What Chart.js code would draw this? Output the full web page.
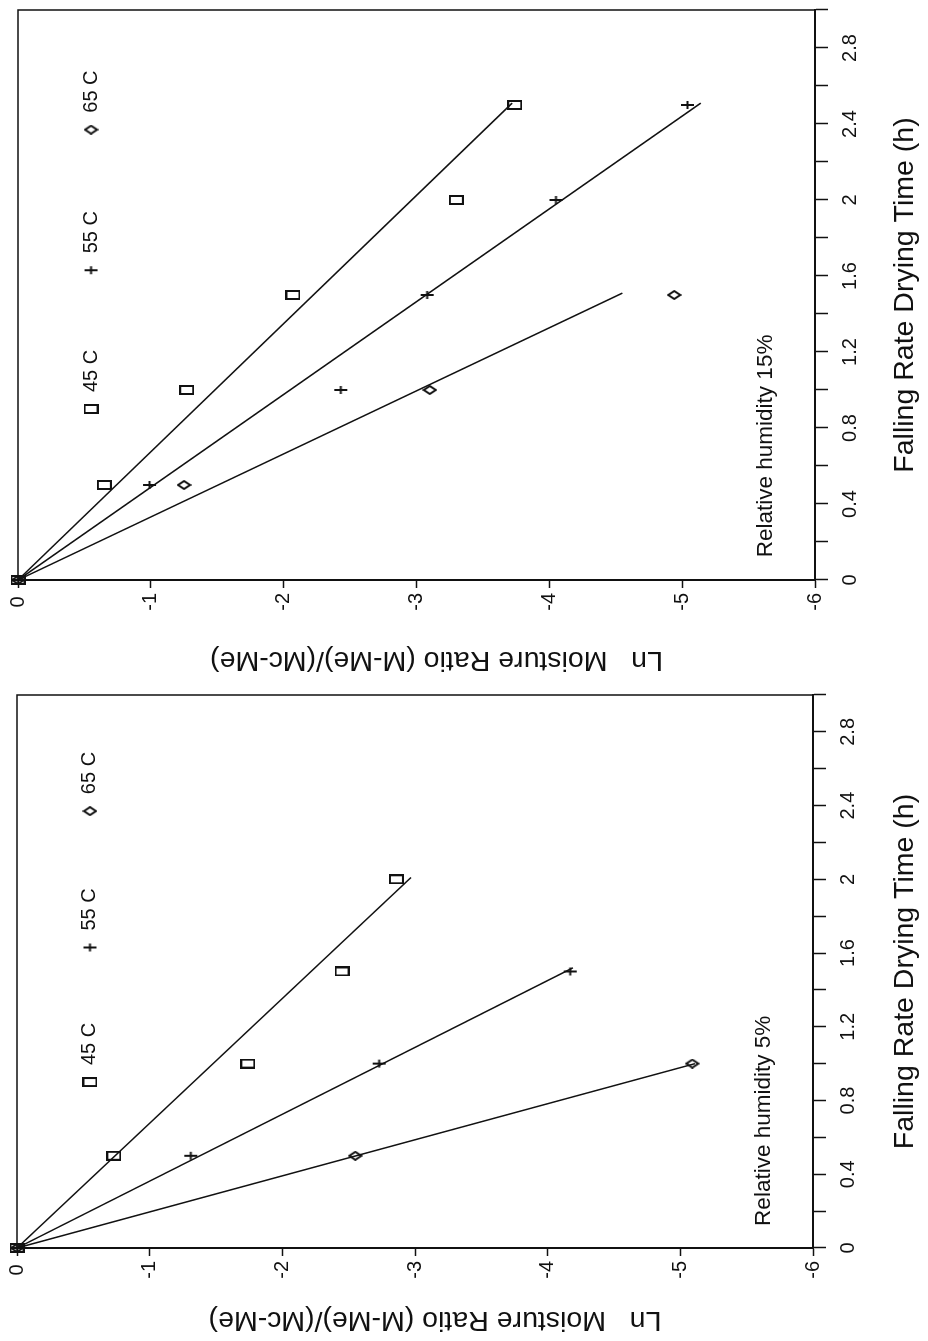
<!DOCTYPE html>
<html>
<head>
<meta charset="utf-8">
<script src="https://cdn.jsdelivr.net/npm/chart.js@4.4.0/dist/chart.umd.min.js"></script>
<style>
  html, body { margin: 0; padding: 0; background: #fff; }
  body { width: 928px; height: 1341px; position: relative; overflow: hidden; }
  canvas { display: block; }
  /* both panels are laid out as landscape plots and turned a quarter turn */
  .panel { position: absolute; transform: rotate(-90deg); transform-origin: 50% 50%; }
  #panelTop { left: 121px; top: -121px; width: 686px; height: 928px; }
  #panelBottom { left: 136px; top: 549px; width: 656px; height: 928px; }
</style>
</head>
<body>
<div class="panel" id="panelTop"><canvas id="chartTop" width="686" height="928"></canvas></div>
<div class="panel" id="panelBottom"><canvas id="chartBottom" width="656" height="928"></canvas></div>
<script>
// Relative humidity 15%
const timesRH15 = [0, 0.5, 1, 1.5, 2, 2.5];
const ln45RH15 = [0, -0.65, -1.27, -2.07, -3.30, -3.74];
const ln55RH15 = [0, -0.99, -2.43, -3.08, -4.05, -5.04];
const ln65RH15 = [0, -1.25, -3.10, -4.94];

// Relative humidity 5%
const timesRH5 = [0, 0.5, 1, 1.5, 2];
const ln45RH5 = [0, -0.73, -1.74, -2.45, -2.86];
const ln55RH5 = [0, -1.31, -2.73, -4.17];
const ln65RH5 = [0, -2.55, -5.09];

// far end of each fitted line through the origin: [time, ln ratio]
const fitRH15 = [[2.51, -3.72], [2.51, -5.14], [1.51, -4.55]];
const fitRH5 = [[2.01, -2.97], [1.52, -4.19], [1.0, -5.11]];

const seriesLabels = ['45 C', '55 C', '65 C'];
const timeTickLabels = ['0', '0.4', '0.8', '1.2', '1.6', '2', '2.4', '2.8'];
const lnTickLabels = ['0', '-1', '-2', '-3', '-4', '-5', '-6'];
const legendTimes = [0.9, 1.63, 2.37];
const legendLn = -0.55;

const INK = '#111';
const FONT = '"Liberation Sans", Arial, Helvetica, sans-serif';
Chart.defaults.font.family = FONT;
Chart.defaults.color = INK;

// open rectangle, plus and open diamond markers
function makeMarker(kind) {
  const c = document.createElement('canvas');
  c.width = 10;
  c.height = 15;
  const g = c.getContext('2d');
  g.strokeStyle = INK;
  g.lineWidth = 2;
  g.beginPath();
  if (kind === 'rect') {
    g.rect(1, 1, 8, 13);
  } else if (kind === 'diamond') {
    g.moveTo(5, 1.5); g.lineTo(9, 7.5); g.lineTo(5, 13.5); g.lineTo(1, 7.5); g.closePath();
  } else {
    g.moveTo(5, 1); g.lineTo(5, 14);
    g.moveTo(1, 7.5); g.lineTo(9, 7.5);
  }
  g.stroke();
  return c;
}
const markers = [makeMarker('rect'), makeMarker('plus'), makeMarker('diamond')];

function timeLabel(v) {
  const hit = timeTickLabels.find(l => Math.abs(Number(l) - v) < 1e-6);
  return hit === undefined ? '' : hit;
}

// box, y title, legend and humidity note
const panelDecor = {
  id: 'panelDecor',
  afterDraw(chart, args, opts) {
    const { ctx, chartArea: a } = chart;
    const x = chart.scales.x, y = chart.scales.y;
    ctx.save();
    ctx.strokeStyle = INK;
    ctx.lineWidth = 1.5;
    ctx.beginPath();
    ctx.moveTo(a.left, a.top);
    ctx.lineTo(a.right, a.top);
    ctx.lineTo(a.right, a.bottom);
    ctx.stroke();

    ctx.fillStyle = INK;
    ctx.textBaseline = 'middle';

    // axis title for the ln scale, a little off centre
    ctx.save();
    ctx.font = '28.5px ' + FONT;
    ctx.textAlign = 'center';
    ctx.translate(opts.titleX, (a.top + a.bottom) / 2 + opts.titleShift);
    ctx.rotate(-Math.PI / 2);
    ctx.fillText('Ln   Moisture Ratio (M-Me)/(Mc-Me)', 0, 0);
    ctx.restore();

    ctx.font = '20px ' + FONT;
    ctx.textAlign = 'left';
    const ly = y.getPixelForValue(legendLn);
    legendTimes.forEach((t, i) => {
      const lx = x.getPixelForValue(t);
      const m = markers[i];
      ctx.drawImage(m, lx - m.width / 2, ly - m.height / 2);
      ctx.fillText(seriesLabels[i], lx + 17, ly);
    });

    ctx.font = '22.5px ' + FONT;
    ctx.fillText(opts.note, x.getPixelForValue(opts.noteAt[0]), y.getPixelForValue(opts.noteAt[1]));
    ctx.restore();
  }
};

function buildChart(id, times, lnSets, fits, cfg) {
  const datasets = [];
  lnSets.forEach((ln, i) => {
    datasets.push({
      label: seriesLabels[i],
      data: ln.map((v, k) => ({ x: times[k], y: v })),
      showLine: false,
      pointStyle: markers[i],
      pointRadius: 6,
      clip: false
    });
    datasets.push({
      label: seriesLabels[i] + ' fit',
      data: [{ x: 0, y: 0 }, { x: fits[i][0], y: fits[i][1] }],
      showLine: true,
      borderColor: INK,
      borderWidth: 1.5,
      pointRadius: 0,
      clip: false
    });
  });

  return new Chart(document.getElementById(id), {
    type: 'scatter',
    data: { datasets: datasets },
    plugins: [panelDecor],
    options: {
      responsive: false,
      animation: false,
      layout: { padding: { left: 0, top: cfg.top, right: cfg.right, bottom: 0 }, autoPadding: false },
      plugins: {
        legend: { display: false },
        tooltip: { enabled: false },
        panelDecor: { note: cfg.note, noteAt: [0.12, -5.63], titleX: cfg.titleX, titleShift: 20 }
      },
      scales: {
        x: {
          type: 'linear',
          position: 'bottom',
          min: 0,
          max: 3,
          ticks: {
            stepSize: 0.2,
            autoSkip: false,
            maxRotation: 0,
            padding: 10,
            font: { size: 20 },
            callback: v => timeLabel(v)
          },
          grid: { drawOnChartArea: false, tickLength: 13, tickColor: INK, tickWidth: 1.5 },
          border: { color: INK, width: 2 },
          title: {
            display: true,
            text: 'Falling Rate Drying Time (h)',
            font: { size: 28.5 },
            padding: { top: 0, bottom: 6 }
          },
          afterFit: s => { s.height = cfg.xAxisHeight; }
        },
        y: {
          type: 'linear',
          position: 'left',
          min: -6,
          max: 0,
          ticks: {
            stepSize: 1,
            crossAlign: 'center',
            padding: 5,
            font: { size: 20 },
            callback: v => lnTickLabels[Math.round(-v)]
          },
          grid: { drawOnChartArea: false, tickLength: 8, tickColor: INK, tickWidth: 1.5 },
          border: { color: INK, width: 2 },
          afterFit: s => { s.width = cfg.yAxisWidth; }
        }
      }
    }
  });
}

buildChart('chartTop', timesRH15, [ln45RH15, ln55RH15, ln65RH15], fitRH15, {
  top: 18, right: 7, xAxisHeight: 113, yAxisWidth: 106, titleX: 26, note: 'Relative humidity 15%'
});
buildChart('chartBottom', timesRH5, [ln45RH5, ln55RH5, ln65RH5], fitRH5, {
  top: 13, right: 6, xAxisHeight: 115, yAxisWidth: 93, titleX: 21, note: 'Relative humidity 5%'
});
</script>
</body>
</html>
